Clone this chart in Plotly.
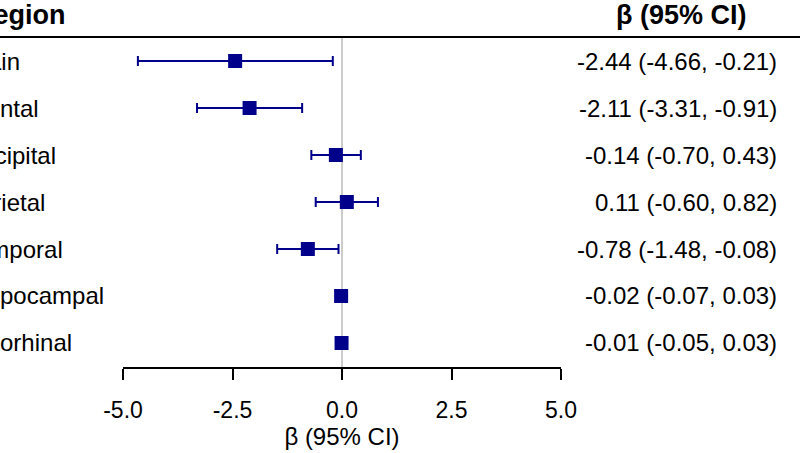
import plotly.graph_objects as go

regions = ["Brain", "Frontal", "Occipital", "Parietal", "Temporal", "Hippocampal", "Entorhinal"]
beta = [-2.44, -2.11, -0.14, 0.11, -0.78, -0.02, -0.01]
ci_low = [-4.66, -3.31, -0.70, -0.60, -1.48, -0.07, -0.05]
ci_high = [-0.21, -0.91, 0.43, 0.82, -0.08, 0.03, 0.03]
x_ticks = [-5.0, -2.5, 0.0, 2.5, 5.0]
x_tick_labels = ["-5.0", "-2.5", "0.0", "2.5", "5.0"]

W, H = 800, 453
FONT = "Arial, Liberation Sans, sans-serif"
NAVY = "#00008B"

rows = list(range(len(regions)))
labels_ci = [f"{b:.2f} ({l:.2f}, {h:.2f})" for b, l, h in zip(beta, ci_low, ci_high)]

fig = go.Figure()
fig.add_trace(go.Scatter(
    x=beta, y=rows, mode="markers",
    marker=dict(symbol="square", size=14, color=NAVY),
    error_x=dict(type="data", symmetric=False,
                 array=[h - b for b, h in zip(beta, ci_high)],
                 arrayminus=[b - l for b, l in zip(beta, ci_low)],
                 color=NAVY, thickness=2, width=5),
    showlegend=False, cliponaxis=False, hoverinfo="skip"))

annotations = []
for r, name, txt in zip(rows, regions, labels_ci):
    annotations.append(dict(x=-38 / W, xref="paper", y=r, yref="y", text=name,
                            xanchor="left", yanchor="middle", showarrow=False,
                            font=dict(family=FONT, size=24, color="black")))
    annotations.append(dict(x=779 / W, xref="paper", y=r, yref="y", text=txt,
                            xanchor="right", yanchor="middle", showarrow=False,
                            font=dict(family=FONT, size=24, color="black")))
annotations.append(dict(x=-28 / W, xref="paper", y=1, yref="paper", yshift=22,
                        text="<b>Region</b>", xanchor="left", yanchor="middle",
                        showarrow=False, font=dict(family=FONT, size=27, color="black")))
annotations.append(dict(x=681 / W, xref="paper", y=1, yref="paper", yshift=22,
                        text="<b>β (95% CI)</b>", xanchor="center", yanchor="middle",
                        showarrow=False, font=dict(family=FONT, size=27, color="black")))

shapes = [
    dict(type="line", xref="x", yref="paper", x0=0, x1=0, y0=0, y1=1,
         line=dict(color="#cccccc", width=2), layer="below"),
    dict(type="line", xref="paper", yref="paper", x0=0, x1=1, y0=1, y1=1,
         line=dict(color="black", width=2)),
]

fig.update_layout(
    width=W, height=H,
    margin=dict(l=0, r=0, t=37, b=86, autoexpand=False),
    paper_bgcolor="white", plot_bgcolor="white",
    font=dict(family=FONT, color="black"),
    xaxis=dict(domain=[123 / W, 561 / W], range=[-5, 5],
               tickvals=x_ticks, ticktext=x_tick_labels,
               showgrid=False, zeroline=False,
               showline=True, linecolor="black", linewidth=2,
               ticks="outside", ticklen=11, tickwidth=2, tickcolor="black",
               ticklabelstandoff=10,
               tickfont=dict(family=FONT, size=23, color="black"),
               title=dict(text="β (95% CI)", font=dict(family=FONT, size=24, color="black"), standoff=2),
               automargin=False,
               fixedrange=True),
    yaxis=dict(range=[6.511, -0.511], visible=False, showgrid=False, zeroline=False,
               fixedrange=True),
    annotations=annotations, shapes=shapes,
)

fig.write_html("out.html")
